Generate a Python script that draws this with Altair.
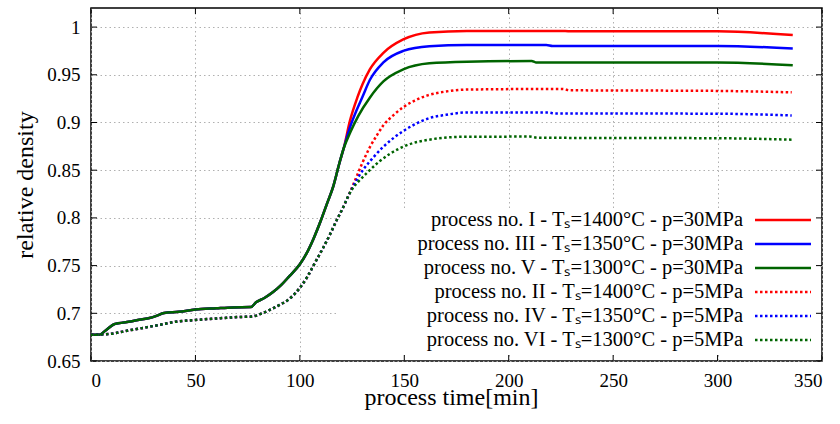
import altair as alt
import pandas as pd

# ---------------- data ----------------
x_ticks = [0, 50, 100, 150, 200, 250, 300, 350]
y_ticks = [0.65, 0.7, 0.75, 0.8, 0.85, 0.9, 0.95, 1.0]

# common start of the p=30MPa curves (I, III, V)
t_p30_common = [0, 4, 7, 11, 13, 19, 24, 28, 31, 35, 42, 50, 60, 68, 76.5, 79, 83, 87, 91, 95,
                100, 103, 106.5, 110, 113, 116, 119, 121]
v_p30_common = [0.6775, 0.6775, 0.682, 0.6885, 0.6895, 0.6915, 0.6935, 0.695, 0.697, 0.7003,
                0.7015, 0.704, 0.7053, 0.7062, 0.7065, 0.7115, 0.716, 0.722, 0.7295, 0.739,
                0.7514, 0.762, 0.778, 0.797, 0.815, 0.833, 0.858, 0.873]

t_I = [124, 127.5, 130, 133.5, 140, 149.5, 162, 180, 227, 230, 300, 336]
v_I = [0.902, 0.926, 0.940, 0.9556, 0.973, 0.987, 0.9944, 0.996, 0.996, 0.9955, 0.9955, 0.9916]

t_III = [124, 127, 130, 133.5, 140, 149.5, 162, 180, 218, 221, 300, 336]
v_III = [0.895, 0.912, 0.927, 0.9445, 0.963, 0.975, 0.980, 0.9813, 0.9813, 0.9802, 0.9802, 0.9775]

t_V = [124, 128, 133.5, 140, 149.5, 162, 180, 211, 213, 300, 336]
v_V = [0.889, 0.907, 0.926, 0.943, 0.9556, 0.962, 0.9637, 0.9644, 0.963, 0.963, 0.9599]

# common start of the p=5MPa curves (II, IV, VI)
t_p5_common = [0, 5, 11, 18, 27, 33, 40, 50, 63, 70, 77, 82, 86, 90.5, 94, 98, 100, 103.5,
               107, 111, 114.5, 117.5, 120.5, 123]
v_p5_common = [0.6775, 0.6778, 0.679, 0.682, 0.6855, 0.688, 0.691, 0.693, 0.695, 0.696, 0.6966,
               0.700, 0.704, 0.709, 0.7135, 0.7215, 0.7267, 0.738, 0.752, 0.768, 0.783, 0.797,
               0.810, 0.822]

t_II = [125, 127.5, 130, 133.5, 137, 140, 145, 149.5, 155, 162, 170, 180, 226, 229, 300, 335.5]
v_II = [0.832, 0.845, 0.858, 0.874, 0.887, 0.897, 0.908, 0.916, 0.923, 0.929, 0.9325, 0.9345,
        0.9352, 0.9338, 0.9331, 0.9316]

t_IV = [125, 127.5, 130.5, 135, 140, 145, 149.5, 155, 162, 170, 180, 219, 222, 300, 335.5]
v_IV = [0.831, 0.841, 0.851, 0.863, 0.8746, 0.884, 0.891, 0.898, 0.9046, 0.908, 0.9105, 0.9105,
        0.9095, 0.9092, 0.9074]

t_VI = [125, 128, 133, 138, 143, 151, 162, 178, 210, 214, 300, 335.5]
v_VI = [0.830, 0.838, 0.849, 0.859, 0.867, 0.876, 0.882, 0.885, 0.8852, 0.884, 0.8835, 0.882]

labels = [
    "process no. I - T\u209b=1400°C - p=30MPa",
    "process no. III - T\u209b=1350°C - p=30MPa",
    "process no. V - T\u209b=1300°C - p=30MPa",
    "process no. II - T\u209b=1400°C - p=5MPa",
    "process no. IV - T\u209b=1350°C - p=5MPa",
    "process no. VI - T\u209b=1300°C - p=5MPa",
]
styles = ["solid", "solid", "solid", "dotted", "dotted", "dotted"]
colors = ["#ff0000", "#0000ff", "#006400", "#ff0000", "#0000ff", "#006400"]

series_t = [t_p30_common + t_I, t_p30_common + t_III, t_p30_common + t_V,
            t_p5_common + t_II, t_p5_common + t_IV, t_p5_common + t_VI]
series_v = [v_p30_common + v_I, v_p30_common + v_III, v_p30_common + v_V,
            v_p5_common + v_II, v_p5_common + v_IV, v_p5_common + v_VI]

# ---------------- layout ----------------
W, H = 731, 353
FONT = "Liberation Serif"
axis_font = dict(labelFont=FONT, labelFontSize=19, labelColor="black",
                 titleFont=FONT, titleFontSize=24, titleFontWeight="normal", titleColor="black")

x_enc = alt.X("t:Q",
              scale=alt.Scale(domain=[0, 350], nice=False, zero=False),
              axis=alt.Axis(values=x_ticks, title="process time[min]", titleX=360, titleY=43,
                            titleBaseline="alphabetic", labelPadding=10, labelFlush=True,
                            **axis_font))
y_enc = alt.Y("v:Q",
              scale=alt.Scale(domain=[0.65, 1.02], nice=False, zero=False),
              axis=alt.Axis(values=y_ticks, format=".2~f", title="relative density",
                            titleX=-66, titleY=H / 2, titleBaseline="middle", labelPadding=11,
                            **axis_font))

box = alt.Chart(pd.DataFrame({"k": [0]})).mark_rect(color="white").encode(
    x=alt.value(245), x2=alt.value(729), y=alt.value(200), y2=alt.value(346))

line_layers = []
for name, ts, vs, st, col in zip(labels, series_t, series_v, styles, colors):
    df = pd.DataFrame({"t": ts, "v": vs, "series": name})
    kw = dict(color=col, strokeWidth=2.5, interpolate="monotone")
    if st == "dotted":
        kw["strokeDash"] = [2.5, 2.5]
    line_layers.append(alt.Chart(df).mark_line(**kw).encode(x=x_enc, y=y_enc))

ydf = pd.DataFrame({"v": y_ticks})
xdf = pd.DataFrame({"t": x_ticks})
tick_kw = dict(color="black", strokeWidth=1)
left_ticks = alt.Chart(ydf).mark_rule(**tick_kw).encode(y=y_enc, x=alt.value(0), x2=alt.value(6))
right_ticks = alt.Chart(ydf).mark_rule(**tick_kw).encode(y=y_enc, x=alt.value(W - 6), x2=alt.value(W))
bottom_ticks = alt.Chart(xdf).mark_rule(**tick_kw).encode(x=x_enc, y=alt.value(H), y2=alt.value(H - 6))
top_ticks = alt.Chart(xdf).mark_rule(**tick_kw).encode(x=x_enc, y=alt.value(0), y2=alt.value(6))

main = alt.layer(box, *line_layers, left_ticks, right_ticks, bottom_ticks, top_ticks)

leg_df = pd.DataFrame({"label": labels, "row": list(range(6)), "style": styles, "series": labels})
row_enc = alt.Y("row:Q", scale=alt.Scale(domain=[0, 5], range=[212, 332]), axis=None)

samples = alt.Chart(leg_df).mark_rule(strokeWidth=2.5).encode(
    x=alt.value(664), x2=alt.value(720), y=row_enc,
    color=alt.Color("series:N", scale=alt.Scale(domain=labels, range=colors), legend=None),
    strokeDash=alt.StrokeDash("style:N",
                              scale=alt.Scale(domain=["solid", "dotted"], range=[[1, 0], [2.5, 2.5]]),
                              legend=None))
texts = alt.Chart(leg_df).mark_text(align="right", baseline="middle", font=FONT, fontSize=20.5,
                                    color="black").encode(
    x=alt.value(652), y=row_enc, text="label:N")

legend = alt.layer(samples, texts)

chart = alt.layer(main, legend).resolve_scale(y="independent").properties(
    width=W, height=H,
    autosize=alt.AutoSizeParams(type="none"),
    padding={"left": 91, "top": 8, "right": 18, "bottom": 63},
).configure_view(
    stroke="black", strokeWidth=1.5
).configure_axis(
    grid=True, gridColor="#b0b0b0", gridDash=[1.5, 3], gridWidth=1,
    domain=False, ticks=False, tickSize=0,
    labelFont=FONT, labelFontSize=19, labelColor="black",
    titleFont=FONT, titleFontSize=24, titleFontWeight="normal", titleColor="black",
)

chart.save("out.html", embed_options={"renderer": "svg", "actions": False})
